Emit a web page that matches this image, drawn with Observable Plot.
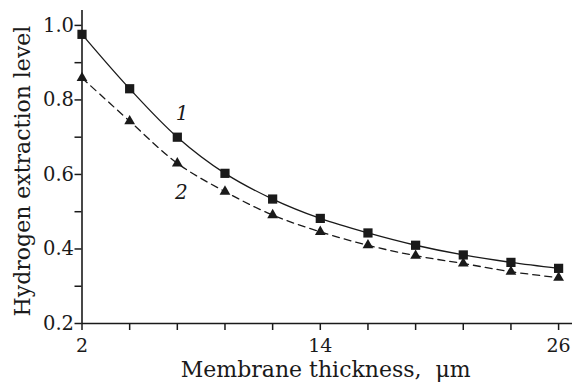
<!DOCTYPE html>
<html><head><meta charset="utf-8">
<script src="https://cdn.jsdelivr.net/npm/d3@7"></script>
<script src="https://cdn.jsdelivr.net/npm/@observablehq/plot@0.6"></script>
<style>body{margin:0;background:#fff}</style>
</head><body><div id="chart"></div>
<script>
const thickness = [2, 4.4, 6.8, 9.2, 11.6, 14, 16.4, 18.8, 21.2, 23.6, 26];
const series1 = [0.976, 0.830, 0.700, 0.603, 0.534, 0.482, 0.443, 0.410, 0.384, 0.364, 0.348];
const series2 = [0.859, 0.743, 0.630, 0.554, 0.491, 0.446, 0.410, 0.382, 0.361, 0.339, 0.323];
const xTicks = thickness;
const xTickLabels = [2, 14, 26];
const yTicks = [0.2, 0.3, 0.4, 0.5, 0.6, 0.7, 0.8, 0.9, 1.0];
const yTickLabels = [0.2, 0.4, 0.6, 0.8, 1.0];
const curveLabels = [{text: "1", x: 7.04, y: 0.763}, {text: "2", x: 7.0, y: 0.551}];
const xTitle = "Membrane thickness,  μm";
const yTitle = "Hydrogen extraction level";

const s1 = thickness.map((x, i) => ({x, y: series1[i]}));
const s2 = thickness.map((x, i) => ({x, y: series2[i]}));
const ink = "#1a1a1a";
const font = "DejaVu Serif";

const chart = Plot.plot({
  width: 572, height: 383,
  marginLeft: 81.5, marginRight: 0, marginTop: 10, marginBottom: 60,
  style: {fontFamily: "'DejaVu Serif', serif", fontSize: "20px", color: ink, background: "#fff"},
  x: {domain: [2, 26.7]},
  y: {domain: [0.2, 1.04]},
  marks: [
    Plot.axisX({ticks: xTicks, tickSize: 7, tickPadding: 8, strokeWidth: 1.5, label: null, fontFamily: font, fontSize: 19,
      tickFormat: d => xTickLabels.some(v => Math.abs(v - d) < 1e-9) ? String(d) : ""}),
    Plot.axisY({ticks: yTicks, tickSize: 7, tickPadding: 1, strokeWidth: 1.5, label: null, fontFamily: font, fontSize: 19.5,
      tickFormat: d => yTickLabels.some(v => Math.abs(v - d) < 1e-9) ? d.toFixed(1) : ""}),
    Plot.ruleX([2], {stroke: ink, strokeWidth: 1.6}),
    Plot.ruleY([0.2], {stroke: ink, strokeWidth: 1.6}),
    Plot.line(s1, {x: "x", y: "y", curve: "catmull-rom", stroke: ink, strokeWidth: 1.3}),
    Plot.line(s2, {x: "x", y: "y", curve: "catmull-rom", stroke: ink, strokeWidth: 1.3, strokeDasharray: "7,5"}),
    Plot.dot(s1, {x: "x", y: "y", symbol: "square", r: 5.2, fill: ink, stroke: "none"}),
    Plot.dot(s2, {x: "x", y: "y", symbol: "triangle", r: 4, fill: ink, stroke: "none"}),
    Plot.text(curveLabels, {x: "x", y: "y", text: "text", fontFamily: font, fontStyle: "italic", fontSize: 20, fill: ink}),
    Plot.text([xTitle], {text: d => d, frameAnchor: "bottom", textAnchor: "middle", dy: 53, dx: -1.5, lineAnchor: "bottom", fontFamily: font, fontSize: 22, fill: ink}),
    Plot.text([yTitle], {text: d => d, frameAnchor: "left", textAnchor: "middle", dx: -52.5, dy: 4, rotate: -90, lineAnchor: "bottom", fontFamily: font, fontSize: 22, fill: ink})
  ]
});
document.getElementById("chart").appendChild(chart);
</script>
</body></html>
